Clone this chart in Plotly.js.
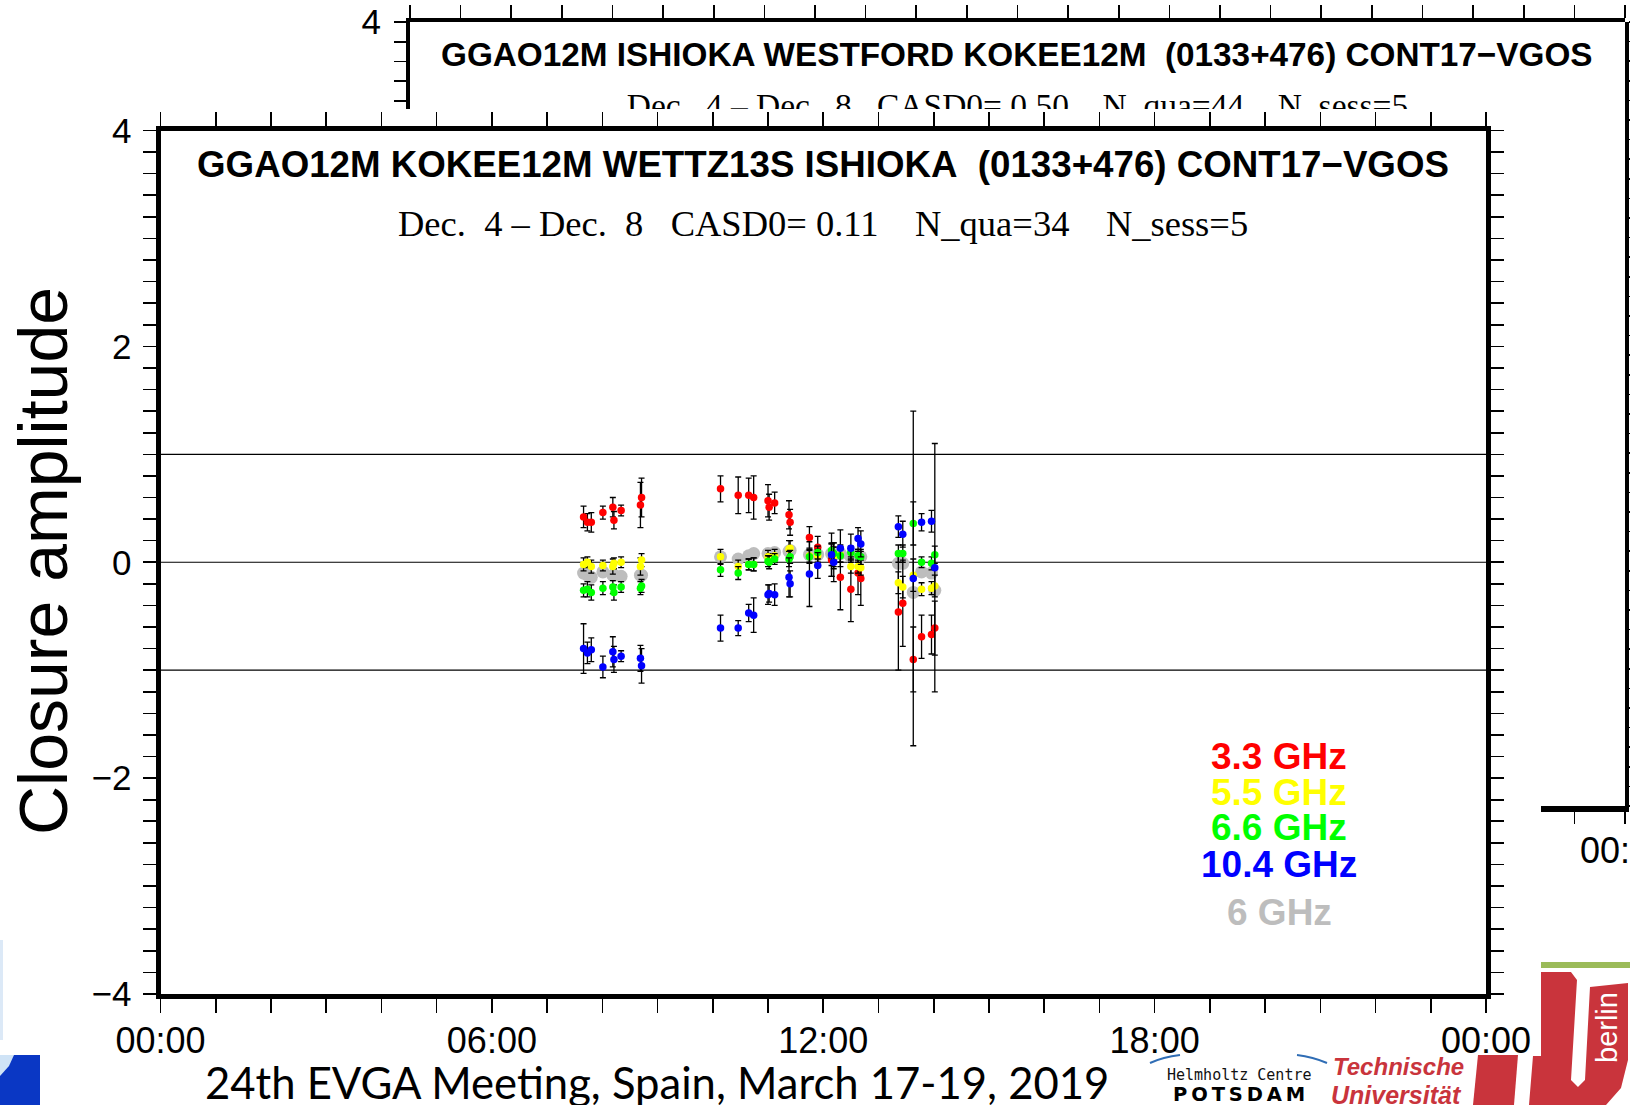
<!DOCTYPE html>
<html>
<head>
<meta charset="utf-8">
<script src="https://cdn.plot.ly/plotly-3.0.1.min.js"></script>
<style>
html,body{margin:0;padding:0;background:#fff;overflow:hidden}
#chart{width:1630px;height:1105px}
</style>
</head>
<body>
<div id="chart"></div>
<script>
// ---------------- DATA ----------------
// observation epochs, hours of day (UT)
const timesHours = [
  7.66, 7.73, 7.80, 8.01, 8.19, 8.21, 8.34, 8.69, 8.71,
  10.14, 10.46, 10.65, 10.74, 11.00, 11.02, 11.12, 11.38, 11.40, 11.75, 11.90, 12.15, 12.19, 12.31, 12.50, 12.63, 12.68,
  13.36, 13.44, 13.63, 13.78, 13.96, 14.02
];
// closure amplitude (log) per band
const amp33 = [
  0.42, 0.37, 0.37, 0.46, 0.51, 0.39, 0.48, 0.53, 0.60,
  0.68, 0.62, 0.62, 0.60, 0.57, 0.51, 0.55, 0.44, 0.37, 0.23, 0.14, 0.02, 0.06, -0.14, -0.25, -0.10, -0.15,
  -0.46, -0.38, -0.90, -0.69, -0.67, -0.61
];
const amp55 = [
  -0.02, 0.00, -0.04, -0.03, -0.04, -0.01, 0.00, -0.04, 0.02,
  0.05, -0.04, -0.02, -0.02, 0.05, 0.03, 0.06, 0.12, 0.13, 0.06, 0.06, 0.07, 0.05, 0.07, -0.04, -0.04, -0.05,
  -0.19, -0.23, -0.12, -0.25, -0.24, -0.22
];
const amp66 = [
  -0.26, -0.25, -0.28, -0.24, -0.23, -0.28, -0.23, -0.24, -0.22,
  -0.07, -0.10, -0.02, -0.02, 0.01, 0.00, 0.03, 0.03, 0.05, 0.05, 0.09, 0.11, 0.08, 0.06, 0.09, 0.06, 0.05,
  0.08, 0.08, 0.36, 0.00, -0.01, 0.07
];
const amp104 = [
  -0.80, -0.84, -0.81, -0.97, -0.83, -0.90, -0.87, -0.89, -0.96,
  -0.61, -0.61, -0.47, -0.49, -0.30, -0.29, -0.30, -0.14, -0.20, -0.11, -0.03, 0.07, 0.00, 0.13, 0.13, 0.22, 0.17,
  0.33, 0.26, -0.15, 0.37, 0.38, -0.05
];
const amp6 = [
  -0.10, -0.12, -0.14, -0.09, -0.12, -0.12, -0.13, -0.12, -0.12,
  0.05, 0.03, 0.06, 0.08, 0.08, 0.07, 0.09, 0.10, 0.11, 0.07, 0.07, 0.08, 0.07, 0.08, 0.05, 0.06, 0.05,
  -0.01, -0.01, -0.28, -0.09, -0.10, -0.26
];
// error bars (1 sigma) per band
const err33 = [
  0.10, 0.08, 0.09, 0.06, 0.09, 0.08, 0.05, 0.21, 0.18,
  0.12, 0.17, 0.16, 0.20, 0.15, 0.12, 0.10, 0.13, 0.12, 0.10, 0.10, 0.15, 0.12, 0.30, 0.30, 0.20, 0.25,
  0.54, 0.40, 0.30, 0.20, 0.18, 0.25
];
const err55 = [
  0.06, 0.05, 0.06, 0.05, 0.07, 0.05, 0.05, 0.08, 0.06,
  0.07, 0.06, 0.05, 0.06, 0.06, 0.05, 0.06, 0.08, 0.07, 0.06, 0.06, 0.10, 0.09, 0.07, 0.06, 0.06, 0.07,
  0.10, 0.10, 0.15, 0.06, 0.06, 0.10
];
const err66 = [
  0.06, 0.07, 0.07, 0.06, 0.06, 0.07, 0.05, 0.06, 0.06,
  0.06, 0.06, 0.05, 0.06, 0.05, 0.06, 0.05, 0.07, 0.06, 0.06, 0.06, 0.07, 0.06, 0.06, 0.06, 0.06, 0.07,
  0.08, 0.08, 0.20, 0.05, 0.06, 0.08
];
const err104 = [
  0.23, 0.10, 0.11, 0.10, 0.14, 0.12, 0.05, 0.12, 0.16,
  0.12, 0.07, 0.08, 0.16, 0.09, 0.08, 0.10, 0.18, 0.12, 0.30, 0.12, 0.20, 0.18, 0.17, 0.13, 0.10, 0.12,
  0.10, 0.12, 1.55, 0.08, 0.10, 1.15
];
const bandLabels = ['3.3 GHz', '5.5 GHz', '6.6 GHz', '10.4 GHz', '6 GHz'];
const refLevels = [1, 0, -1];
const xTickHours = [0, 6, 12, 18, 24];
const xTickLabels = ['00:00', '06:00', '12:00', '18:00', '00:00'];
const yTickValues = [-4, -2, 0, 2, 4];
const yTickLabels = ['\u22124', '\u22122', '0', '2', '4'];
const mainTitle = 'GGAO12M KOKEE12M WETTZ13S ISHIOKA\u00a0 (0133+476) CONT17\u2212VGOS';
const mainSubtitle = 'Dec.\u00a0 4 \u2013 Dec.\u00a0 8\u00a0\u00a0 CASD0= 0.11\u00a0\u00a0\u00a0 N_qua=34\u00a0\u00a0\u00a0 N_sess=5';
const backTitle = 'GGAO12M ISHIOKA WESTFORD KOKEE12M\u00a0 (0133+476) CONT17\u2212VGOS';
const backSubtitle = 'Dec.\u00a0 4 \u2013 Dec.\u00a0 8\u00a0\u00a0 CASD0= 0.50\u00a0\u00a0\u00a0 N_qua=44\u00a0\u00a0\u00a0 N_sess=5';
const yTitle = 'Closure amplitude';
const footerText = '24th EVGA Meeting, Spain, March 17-19, 2019';

// ---------------- STYLE / LAYOUT ----------------
const W = 1630, H = 1105;
const px = x => x / W;
const py = y => 1 - y / H;
const bandColors = ['#ff0000', '#ffff00', '#00ff00', '#0000ff', '#bdbdbd'];

const hourVals = [];
for (let h = 0; h <= 24; h++) hourVals.push(h);
const hourText = hourVals.map(h => { const k = xTickHours.indexOf(h); return k >= 0 ? xTickLabels[k] : ''; });
const fifthVals = [];
for (let k = -20; k <= 20; k++) fifthVals.push(Math.round(k * 2) / 10);
const fifthText = fifthVals.map(v => { const k = yTickValues.indexOf(v); return k >= 0 ? yTickLabels[k] : ''; });

function errBars(arr) {
  return {type: 'data', array: arr, visible: true, color: '#000', thickness: 1.3, width: 3};
}
function band(y, err, color, size) {
  const t = {type: 'scatter', mode: 'markers', x: timesHours, y: y, xaxis: 'x', yaxis: 'y',
    marker: {color: color, size: size, line: {width: 0}}, hoverinfo: 'skip', showlegend: false};
  if (err) t.error_y = errBars(err);
  return t;
}

const traces = [
  band(amp6, null, bandColors[4], 13),
  band(amp33, err33, bandColors[0], 7.5),
  band(amp55, err55, bandColors[1], 7.5),
  band(amp66, err66, bandColors[2], 7.5),
  band(amp104, err104, bandColors[3], 7.5),
  {type: 'scatter', mode: 'text', x: [12], y: [3.29], xaxis: 'x2', yaxis: 'y2',
   text: [backSubtitle], textposition: 'bottom center', cliponaxis: true,
   textfont: {family: 'Liberation Serif, Times New Roman, serif', size: 33.5, color: '#000'},
   hoverinfo: 'skip', showlegend: false}
];

const axisFont = 'Liberation Sans, Arial, Helvetica, sans-serif';

function poly(points) {
  return 'M' + points.map(p => px(p[0]).toFixed(5) + ',' + py(p[1]).toFixed(5)).join(' L') + ' Z';
}
function qcurve(p0, c, p1) {
  return 'M' + px(p0[0]) + ',' + py(p0[1]) + ' Q' + px(c[0]) + ',' + py(c[1]) + ' ' + px(p1[0]) + ',' + py(p1[1]);
}

const shapes = [];
refLevels.forEach(v => shapes.push({type: 'line', xref: 'x domain', x0: 0, x1: 1, yref: 'y', y0: v, y1: v,
  line: {color: '#000', width: 1.2}, layer: 'below'}));
refLevels.forEach(v => shapes.push({type: 'line', xref: 'x3 domain', x0: 0, x1: 1, yref: 'y3', y0: v, y1: v,
  line: {color: '#444', width: 1.2}, layer: 'below'}));
// TU Berlin logo pieces (decoration)
const tuRed = '#c9343c';
shapes.push({type: 'line', xref: 'paper', yref: 'paper', x0: px(1541), x1: px(1630), y0: py(965), y1: py(965),
  line: {color: '#9bbb59', width: 6}});
shapes.push({type: 'path', xref: 'paper', yref: 'paper', path: poly([[1478,1055],[1518,1055],[1514,1105],[1473,1105]]),
  fillcolor: tuRed, line: {width: 0}});
shapes.push({type: 'path', xref: 'paper', yref: 'paper',
  path: poly([[1541,972],[1571,972],[1577,980],[1571,1080],[1578,1087],[1585,1080],[1590,987],[1628,983],
              [1628,1060],[1621,1088],[1606,1105],[1529,1105],[1533,1056],[1541,1056]]),
  fillcolor: tuRed, line: {width: 0}});
// Helmholtz arcs
shapes.push({type: 'path', xref: 'paper', yref: 'paper', path: qcurve([1150,1063],[1163,1057],[1180,1055]),
  line: {color: '#2f6db5', width: 2}});
shapes.push({type: 'path', xref: 'paper', yref: 'paper', path: qcurve([1297,1055],[1313,1057],[1327,1063]),
  line: {color: '#2f6db5', width: 2}});
// slide corner decoration (bottom-left)
shapes.push({type: 'path', xref: 'paper', yref: 'paper', path: poly([[0,1055],[40,1055],[40,1105],[0,1105]]),
  fillcolor: '#0a37c4', line: {width: 0}});
shapes.push({type: 'path', xref: 'paper', yref: 'paper', path: poly([[0,1055],[14,1055],[9,1066],[0,1076]]),
  fillcolor: '#cfe3f6', line: {width: 0}});
shapes.push({type: 'path', xref: 'paper', yref: 'paper', path: poly([[0,940],[3,940],[3,1040],[0,1040]]),
  fillcolor: '#dce9f7', line: {width: 0}});

const annotations = [];
function ann(text, x, y, font, extra) {
  annotations.push(Object.assign({text: text, x: px(x), y: py(y), xref: 'paper', yref: 'paper',
    showarrow: false, xanchor: 'center', yanchor: 'middle', font: font}, extra || {}));
}
ann(mainSubtitle, 823, 224, {family: 'Liberation Serif, Times New Roman, serif', size: 36.5, color: '#000'});
ann('<b>' + backTitle + '</b>', 1017, 54, {family: axisFont, size: 33.3, color: '#000'});
ann(yTitle, 43, 561, {family: axisFont, size: 68, color: '#000'}, {textangle: -90});
const legendY = [756, 792, 827, 864, 912];
bandLabels.forEach((lab, i) => ann('<b>' + lab + '</b>', 1279, legendY[i], {family: axisFont, size: 37, color: bandColors[i]}));
// back panel: last x tick label (partly outside the slide)
ann(xTickLabels[4], 1625, 850, {family: axisFont, size: 36, color: '#000'});
ann(footerText, 203, 1082, {family: 'Lato, Carlito, Calibri, sans-serif', size: 43.6, color: '#000'}, {xanchor: 'left'});
ann('Helmholtz Centre', 1239, 1075, {family: 'DejaVu Sans Mono, monospace', size: 15, color: '#111'});
ann('<b>P\u2009O\u2009T\u2009S\u2009D\u2009A\u2009M</b>', 1239, 1094, {family: 'DejaVu Sans, sans-serif', size: 19.5, color: '#000'});
ann('<b><i>Technische</i></b>', 1398, 1066, {family: 'Liberation Sans Narrow, Liberation Sans, sans-serif', size: 24, color: tuRed});
ann('<b><i>Universität</i></b>', 1396, 1095, {family: 'Liberation Sans Narrow, Liberation Sans, sans-serif', size: 25, color: tuRed});
ann('berlin', 1607, 1028, {family: axisFont, size: 29, color: '#fff'}, {textangle: -90});

const layout = {
  width: W, height: H,
  margin: {l: 0, r: 0, t: 0, b: 0, pad: 0},
  paper_bgcolor: '#fff', plot_bgcolor: '#fff',
  showlegend: false,
  title: {text: '<b>' + mainTitle + '</b>', x: px(823), xref: 'paper', xanchor: 'center',
          y: py(164), yref: 'paper', yanchor: 'middle', font: {family: axisFont, size: 36.7, color: '#000'}},
  xaxis: {domain: [px(160.5), px(1486)], anchor: 'y', range: [0, 24], tickmode: 'array', tickvals: hourVals, ticktext: hourText,
          ticks: 'outside', ticklen: 14, tickwidth: 1.6, tickcolor: '#000', showline: true, linewidth: 5, linecolor: '#000',
          mirror: 'ticks', showgrid: false, zeroline: false, ticklabelstandoff: -3,
          tickfont: {family: axisFont, size: 36, color: '#000'}, fixedrange: true},
  yaxis: {domain: [py(994), py(130.5)], anchor: 'x', range: [-4, 4], tickmode: 'array', tickvals: fifthVals, ticktext: fifthText,
          ticks: 'outside', ticklen: 13, tickwidth: 1.6, tickcolor: '#000', showline: true, linewidth: 5, linecolor: '#000',
          mirror: 'ticks', showgrid: false, zeroline: false, ticklabelstandoff: 4,
          tickfont: {family: axisFont, size: 35, color: '#000'}, fixedrange: true},
  xaxis2: {domain: [px(410), px(1625)], anchor: 'y2', side: 'top', range: [0, 24], tickmode: 'array', tickvals: hourVals,
           ticktext: hourVals.map(() => ''), ticks: 'outside', ticklen: 13, tickwidth: 1.6, tickcolor: '#000',
           showline: true, linewidth: 4, linecolor: '#000', showgrid: false, zeroline: false, fixedrange: true},
  yaxis2: {domain: [py(109), py(22)], anchor: 'x2', range: [4 - 87 / 98.6, 4.001], tickmode: 'array',
           tickvals: [3.2, 3.4, 3.6, 3.8, 4], ticktext: ['', '', '', '', '4'], ticks: 'outside', ticklen: 12, tickwidth: 1.6,
           tickcolor: '#000', showline: true, linewidth: 4, linecolor: '#000', showgrid: false, zeroline: false,
           ticklabelstandoff: 6, tickfont: {family: axisFont, size: 35, color: '#000'}, fixedrange: true},
  xaxis3: {domain: [px(1541), px(1625)], anchor: 'y3', range: [24 - 84 / 50.625, 24], tickmode: 'array',
           tickvals: [23, 24], ticktext: ['', ''], ticks: 'outside', ticklen: 12, tickwidth: 1.6, tickcolor: '#000',
           showline: true, linewidth: 6, linecolor: '#000', showgrid: false, zeroline: false, fixedrange: true},
  yaxis3: {domain: [py(806), py(22)], anchor: 'x3', side: 'right', range: [-4, 4], tickmode: 'array',
           tickvals: fifthVals, ticktext: fifthVals.map(() => ''), ticks: 'outside', ticklen: 10, tickwidth: 1.6,
           tickcolor: '#000', showline: true, linewidth: 4, linecolor: '#000', showgrid: false, zeroline: false, fixedrange: true},
  shapes: shapes,
  annotations: annotations
};

Plotly.newPlot('chart', traces, layout, {displayModeBar: false, staticPlot: true});
</script>
</body>
</html>
